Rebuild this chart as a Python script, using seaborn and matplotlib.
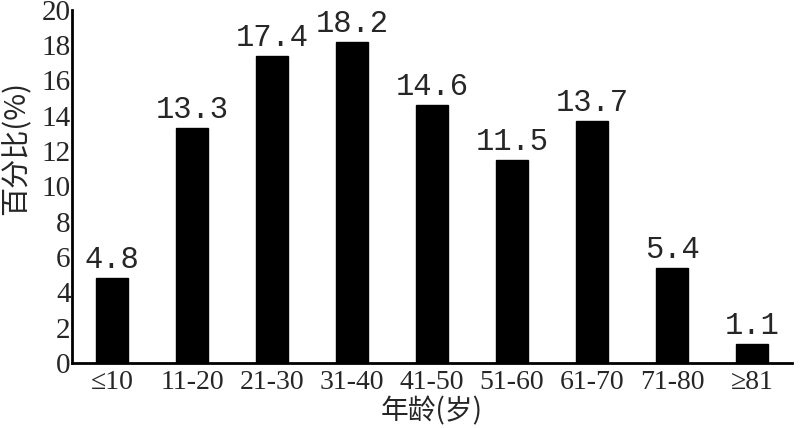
import matplotlib
matplotlib.use("Agg")
import matplotlib.pyplot as plt
import seaborn as sns
import pandas as pd
import numpy as np

categories = ["≤10", "11-20", "21-30", "31-40", "41-50", "51-60", "61-70", "71-80", "≥81"]
values = [4.8, 13.3, 17.4, 18.2, 14.6, 11.5, 13.7, 5.4, 1.1]
value_labels = ["4.8", "13.3", "17.4", "18.2", "14.6", "11.5", "13.7", "5.4", "1.1"]
yticks = [0, 2, 4, 6, 8, 10, 12, 14, 16, 18, 20]

sns.set_theme(style="white")
plt.rcParams['font.family'] = ['Liberation Serif', 'DejaVu Serif', 'Noto Sans CJK SC']

df = pd.DataFrame({"age": categories, "pct": values})

fig = plt.figure(figsize=(8, 4.28), dpi=100)
ax = fig.add_axes([0.09, 0.152, 0.90, 0.825])
sns.barplot(data=df, x="age", y="pct", color="black", width=0.4, ax=ax,
            saturation=1, edgecolor="black")

for i, (v, lab) in enumerate(zip(values, value_labels)):
    ax.annotate(lab, xy=(i, v), xytext=(0, 2), textcoords="offset points",
                ha="center", va="bottom", fontsize=22,
                family=['Liberation Mono', 'DejaVu Sans Mono'])

ax.set_xlim(-0.5, len(categories) - 0.5)
ax.set_ylim(0, 20)
ax.set_yticks(yticks)
ax.set_yticklabels([str(t) for t in yticks], fontsize=21)
ax.set_xticks(range(len(categories)))
ax.set_xticklabels(categories, fontsize=20,
                   family=['Liberation Serif', 'DejaVu Sans'])
ax.set_xticks(np.arange(0.5, len(categories), 1.0), minor=True)
ax.tick_params(axis="x", which="major", length=0, pad=5)
ax.tick_params(axis="x", which="minor", direction="in", length=4, width=1.5, color="black")
ax.tick_params(axis="y", which="major", direction="in", length=5, width=1.5, color="black", pad=1)

for s in ["top", "right"]:
    ax.spines[s].set_visible(False)
for s in ["left", "bottom"]:
    ax.spines[s].set_color("black")
    ax.spines[s].set_linewidth(2)

ax.set_xlabel("年龄(岁)", fontsize=20, family=['Noto Sans CJK SC', 'DejaVu Sans'])
ax.xaxis.set_label_coords(0.5, -0.095)
ax.set_ylabel("百分比(%)", fontsize=21, family=['Noto Sans CJK SC', 'DejaVu Sans'])
ax.yaxis.set_label_coords(-0.056, 0.61)
ax.grid(False)

fig.savefig("out.png", dpi=100, facecolor="white")
